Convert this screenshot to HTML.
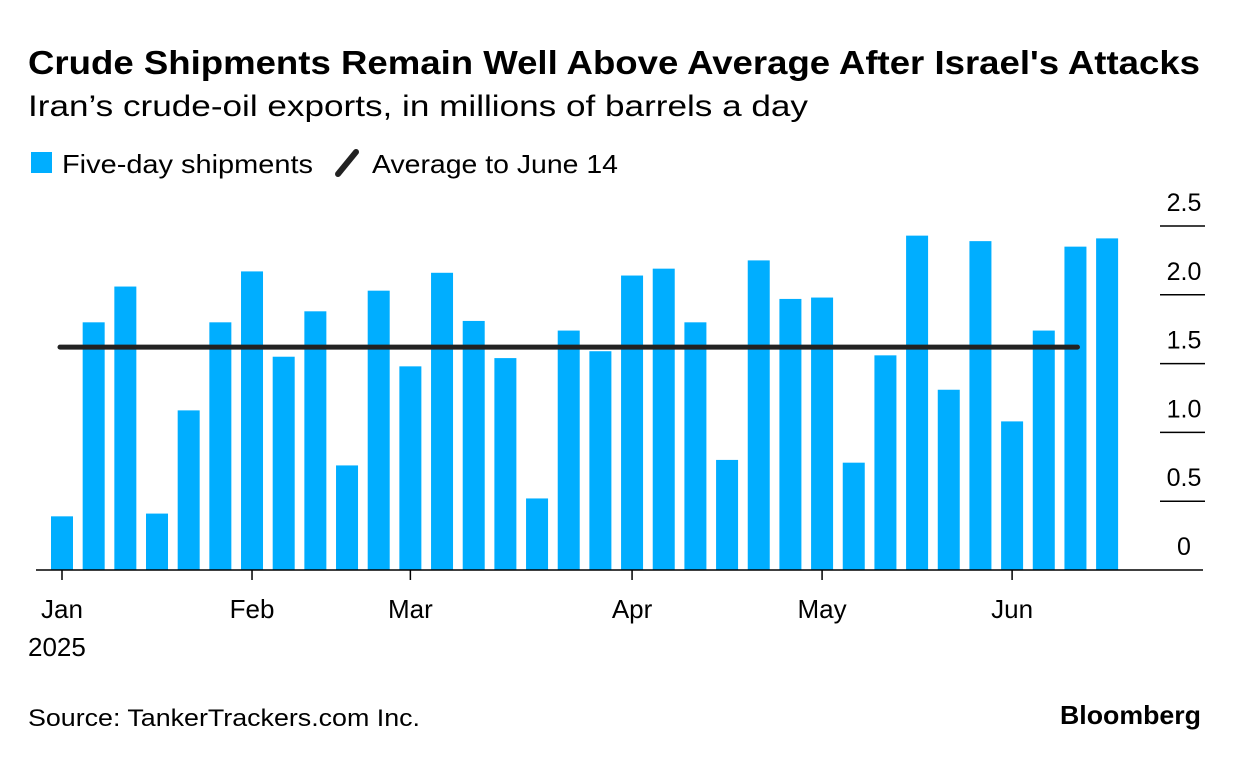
<!DOCTYPE html>
<html><head><meta charset="utf-8"><style>
body{margin:0;background:#fff;width:1240px;height:758px;overflow:hidden;font-family:"Liberation Sans",sans-serif;}
</style></head><body>
<svg width="1240" height="758" xmlns="http://www.w3.org/2000/svg" font-family="Liberation Sans, sans-serif">
<text x="28" y="74" font-size="33" font-weight="bold" fill="#000" textLength="1172" lengthAdjust="spacingAndGlyphs">Crude Shipments Remain Well Above Average After Israel's Attacks</text>
<text x="28" y="116" font-size="30" fill="#000" textLength="780" lengthAdjust="spacingAndGlyphs">Iran’s crude-oil exports, in millions of barrels a day</text>
<g>
<rect x="31" y="152" width="21" height="21" fill="#00aeff"/>
<text x="62" y="173" font-size="26" fill="#000" textLength="251" lengthAdjust="spacingAndGlyphs">Five-day shipments</text>
<line x1="338" y1="174" x2="356" y2="152" stroke="#222" stroke-width="6" stroke-linecap="round"/>
<text x="372" y="173" font-size="26" fill="#000" textLength="246" lengthAdjust="spacingAndGlyphs">Average to June 14</text>
</g>
<g id="plot"></g>
<text x="28" y="726" font-size="24" fill="#000" textLength="392" lengthAdjust="spacingAndGlyphs">Source: TankerTrackers.com Inc.</text>
<text x="1060" y="724" font-size="26" font-weight="bold" fill="#000" textLength="141" lengthAdjust="spacingAndGlyphs">Bloomberg</text>
</svg>
<script>
const values=[0.39,1.80,2.06,0.41,1.16,1.80,2.17,1.55,1.88,0.76,2.03,1.48,2.16,1.81,1.54,0.52,1.74,1.59,2.14,2.19,1.80,0.80,2.25,1.97,1.98,0.78,1.56,2.43,1.31,2.39,1.08,1.74,2.35,2.41];
const average=1.62;
const averageEndIndex=32;
const yTicks=[0,0.5,1.0,1.5,2.0,2.5];
const yTickLabels=["0","0.5","1.0","1.5","2.0","2.5"];
const monthLabels=["Jan","Feb","Mar","Apr","May","Jun"];
const monthIndex=[0,6,11,18,24,30];
const NS="http://www.w3.org/2000/svg";
const g=document.getElementById('plot');
const y0=570, pxPerUnit=137.6, x0=62, step=31.67, bw=22;
const y=v=>y0-v*pxPerUnit;
const x=i=>x0+i*step;
function mk(t,a){const e=document.createElementNS(NS,t);for(const k in a)e.setAttribute(k,a[k]);g.appendChild(e);return e;}
yTicks.forEach((t,i)=>{
  if(t>0){const l=mk('line',{x1:1160,x2:1205,y1:y(t),y2:y(t),stroke:'#000','stroke-width':1.5});
  
  }
  const tx=mk('text',{x:1184,y:y(t)-15,'font-size':25,'text-anchor':'middle',fill:'#000'});
  tx.textContent=yTickLabels[i];
  
  
});
values.forEach((v,i)=>{
  const r=mk('rect',{x:x(i)-bw/2,y:y(v),width:bw,height:v*pxPerUnit,fill:'#00aeff'});
  
  
});
const ax=mk('line',{x1:36,x2:1203,y1:y0,y2:y0,stroke:'#000','stroke-width':1.5});


monthIndex.forEach((mi,i)=>{
  const t=mk('line',{x1:x(mi),x2:x(mi),y1:y0,y2:y0+10,stroke:'#000','stroke-width':1.5});
  
  
  const tx=mk('text',{x:x(mi),y:618,'font-size':26,'text-anchor':'middle',fill:'#000'});
  tx.textContent=monthLabels[i];
  
  
});
const yr=mk('text',{x:28,y:656,'font-size':26,fill:'#000'});
yr.textContent='2025';


const av=mk('line',{x1:x(0)-2,x2:x(averageEndIndex)+2,y1:y(average),y2:y(average),stroke:'#222','stroke-width':5,'stroke-linecap':'round'});


</script>
</body></html>
